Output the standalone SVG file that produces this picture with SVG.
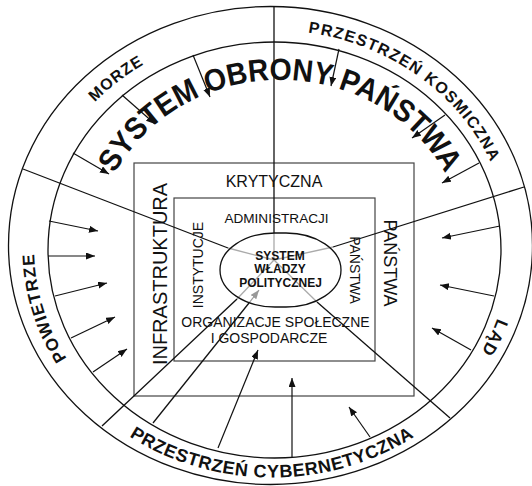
<svg xmlns="http://www.w3.org/2000/svg" width="532" height="486" viewBox="0 0 532 486">
<style>
text{font-family:"Liberation Sans",Arial,sans-serif;fill:#111}
.ring{font-weight:bold}
.ln{stroke:#111;stroke-width:1.3;fill:none}
.gr{stroke:#aaa;stroke-width:1.3;fill:none}
.box{stroke:#444;stroke-width:1.2;fill:none}
.ar{stroke:#111;stroke-width:1.2;fill:none;marker-end:url(#ah)}
.arg{stroke:#999;stroke-width:1.2;fill:none;marker-end:url(#ahg)}
</style>
<defs>
<marker id="ah" markerUnits="userSpaceOnUse" markerWidth="10" markerHeight="8" refX="9" refY="3.5" orient="auto"><path d="M0,0 L9,3.5 L0,7 z" fill="#111"/></marker>
<marker id="ahg" markerUnits="userSpaceOnUse" markerWidth="10" markerHeight="8" refX="9" refY="3.5" orient="auto"><path d="M0,0 L9,3.5 L0,7 z" fill="#999"/></marker>
<path id="pBig" d="M 95 250 A 185 170 0 0 1 465 250"/>
<path id="pMorze" d="M 47.2 176.3 A 238 218 0 0 1 227.4 33.9"/>
<path id="pKosm" d="M 264.9 30.1 A 238 218 0 0 1 505 203.8"/>
<path id="pPow" d="M 105.5 403.8 A 238 218 0 0 1 41.5 193.8"/>
<path id="pLad" d="M 509.6 261.3 A 238 218 0 0 1 444.6 398.1"/>
<path id="pCyb" d="M 80.5 395.5 A 250 229.5 0 0 0 463.5 395.5"/>
</defs>
<rect width="532" height="486" fill="#fff"/>
<g id="outer-ring">
<ellipse class="ln" cx="270.5" cy="245.5" rx="262" ry="239"/>
<ellipse class="ln" cx="274.5" cy="250" rx="226.5" ry="208"/>
</g>
<g id="infrastruktura">
<rect class="box" x="134" y="163" width="280" height="233"/>
<text x="274" y="187" font-size="16" text-anchor="middle">KRYTYCZNA</text>
<text transform="translate(166.5,274) rotate(-90)" font-size="20" text-anchor="middle">INFRASTRUKTURA</text>
<text transform="translate(384,263) rotate(90)" font-size="18" text-anchor="middle">PAŃSTWA</text>
</g>
<g id="administracja">
<rect class="box" x="174" y="198" width="201" height="163"/>
<text x="276.5" y="223.3" font-size="13.6" text-anchor="middle">ADMINISTRACJI</text>
<text transform="translate(203,265) rotate(-90)" font-size="14" text-anchor="middle">INSTYTUCJE</text>
<text transform="translate(350,270) rotate(90)" font-size="14" text-anchor="middle">PAŃSTWA</text>
<text x="275.5" y="326.7" font-size="14" text-anchor="middle">ORGANIZACJE SPOŁECZNE</text>
<text x="269" y="343" font-size="14" text-anchor="middle">I GOSPODARCZE</text>
</g>
<g id="connectors">
<line class="ln" x1="274" y1="6.5" x2="274" y2="233"/>
<line class="ln" x1="23" y1="169" x2="228" y2="248"/>
<line class="ln" x1="524" y1="187" x2="333" y2="247"/>
<line class="ln" x1="450" y1="418" x2="317" y2="302"/>
<line class="ln" x1="102" y1="426" x2="237" y2="299"/>
<line class="gr" x1="274" y1="233" x2="274" y2="260"/>
<line class="gr" x1="228" y1="248" x2="274" y2="260"/>
<line class="gr" x1="333" y1="247" x2="274" y2="260"/>
<line class="gr" x1="317" y1="302" x2="274" y2="260"/>
<line class="gr" x1="237" y1="299" x2="274" y2="260"/>
<line class="ar" x1="73" y1="153" x2="109" y2="174"/>
<line class="ar" x1="122" y1="95" x2="155" y2="124"/>
<line class="ar" x1="193" y1="55" x2="210" y2="97"/>
<line class="ar" x1="339" y1="49" x2="331" y2="86"/>
<line class="ar" x1="445" y1="115" x2="412" y2="138"/>
<line class="ar" x1="479" y1="163" x2="442" y2="183"/>
<line class="ar" x1="500" y1="226" x2="442" y2="238"/>
<line class="ar" x1="494" y1="296" x2="440" y2="285"/>
<line class="ar" x1="471" y1="350" x2="432" y2="328"/>
<line class="ar" x1="370" y1="437" x2="349" y2="407"/>
<line class="ar" x1="292" y1="457" x2="292" y2="378"/>
<line class="ar" x1="218" y1="448" x2="258" y2="350"/>
<line class="ln" x1="153" y1="423" x2="249" y2="303"/>
<line class="arg" x1="249" y1="303" x2="259" y2="290"/>
<line class="ar" x1="49" y1="221" x2="98" y2="231"/>
<line class="ar" x1="48" y1="256" x2="95" y2="256"/>
<line class="ar" x1="55" y1="296" x2="107" y2="283"/>
<line class="ar" x1="71" y1="338" x2="115" y2="317"/>
<line class="ar" x1="93" y1="372" x2="127" y2="349"/>
</g>
<g id="system-wladzy">
<rect class="ln" x="220" y="233" width="121" height="74" rx="55" ry="37"/>
<text x="280" y="260" font-size="12" font-weight="bold" text-anchor="middle">SYSTEM</text>
<text x="280" y="273" font-size="12" font-weight="bold" text-anchor="middle">WŁADZY</text>
<text x="280.5" y="286.5" font-size="12" font-weight="bold" text-anchor="middle">POLITYCZNEJ</text>
</g>
<g id="ring-labels">
<text class="ring" font-size="16" letter-spacing="1"><textPath href="#pMorze" startOffset="50%" text-anchor="middle">MORZE</textPath></text>
<text class="ring" font-size="16" letter-spacing="1.3"><textPath href="#pKosm" startOffset="50%" text-anchor="middle">PRZESTRZEŃ KOSMICZNA</textPath></text>
<text class="ring" font-size="17" letter-spacing="1.2"><textPath href="#pPow" startOffset="50%" text-anchor="middle">POWIETRZE</textPath></text>
<text class="ring" font-size="17" letter-spacing="1"><textPath href="#pLad" startOffset="50%" text-anchor="middle">LĄD</textPath></text>
<text class="ring" font-size="18" letter-spacing="0.6"><textPath href="#pCyb" startOffset="50%" text-anchor="middle">PRZESTRZEŃ CYBERNETYCZNA</textPath></text>
</g>
<g id="system-obrony">
<text font-size="31" font-weight="bold"><textPath href="#pBig" startOffset="50%" text-anchor="middle" textLength="398" lengthAdjust="spacingAndGlyphs">SYSTEM OBRONY PAŃSTWA</textPath></text>
</g>
</svg>
